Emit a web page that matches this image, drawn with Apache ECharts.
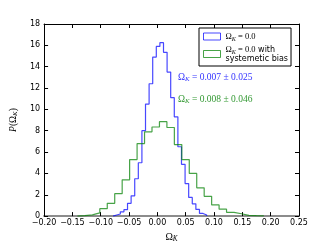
<!DOCTYPE html>
<html>
<head>
<meta charset="utf-8">
<script src="https://cdn.jsdelivr.net/npm/echarts@6/dist/echarts.min.js"></script>
<style>html,body{margin:0;padding:0;background:#fff}#c{width:332px;height:248px}</style>
</head>
<body>
<div id="c"></div>
<script>
// ---- data ----
const xTicks = [-0.20, -0.15, -0.10, -0.05, 0.00, 0.05, 0.10, 0.15, 0.20, 0.25];
const yTicks = [0, 2, 4, 6, 8, 10, 12, 14, 16, 18];

// Omega_K = 0.0 histogram (density per bin)
const blueBinStart = -0.0781;
const blueBinWidth = 0.00635;
const blueValues = [0.1, 0.2, 0.4, 0.6, 1.2, 1.9, 3.5, 5.0, 8.0, 10.5, 12.4, 14.9, 15.9, 16.25,
                    15.35, 13.5, 11.1, 9.3, 6.5, 4.85, 3.05, 1.75, 1.15, 0.63, 0.25, 0.1];

// Omega_K = 0.0 with systematic bias
const greenBinStart = -0.1411;
const greenBinWidth = 0.01316;
const greenValues = [0.04, 0.12, 0.3, 0.7, 1.2, 2.1, 3.4, 5.3, 6.8, 7.9, 8.35, 8.85, 8.3,
                     6.7, 5.3, 4.0, 2.65, 1.85, 1.05, 0.65, 0.35, 0.22, 0.07, 0.04, 0.02];

const blueLabel = 'Ω_K = 0.0';
const greenLabel = 'Ω_K = 0.0 with systemetic bias';
const blueStat = '0.007 ± 0.025';
const greenStat = '0.008 ± 0.046';

// ---- build step outlines ----
function stepData(start, width, vals) {
  const d = [[start, 0]];
  vals.forEach((v, i) => d.push([start + i * width, v]));
  d.push([start + vals.length * width, 0]);
  return d;
}
const blueC = 'rgba(0,0,255,0.72)';
const greenC = 'rgba(0,128,0,0.72)';
const serif = 'Liberation Serif';
const sans = 'DejaVu Sans';
const mathRich = (c, fs) => ({
  o: {fontFamily: serif, fontSize: fs, color: c, fill: c},
  k: {fontFamily: serif, fontStyle: 'italic', fontSize: fs * 0.72, color: c, fill: c, padding: [5, 0, 0, 0]},
  m: {fontFamily: serif, fontSize: fs, color: c, fill: c},
  s: {fontFamily: sans, fontSize: fs - 0.5, color: c, fill: c}
});

const fmtTick = v => (v < 0 ? '−' : '') + Math.abs(v).toFixed(2);

const chart = echarts.init(document.getElementById('c'), null, {renderer: 'canvas'});
chart.setOption({
  animation: false,
  backgroundColor: '#fff',
  grid: {left: 41, right: 33, top: 24, bottom: 25},
  xAxis: [{
    type: 'value', min: xTicks[0], max: xTicks[xTicks.length - 1], interval: 0.05,
    position: 'bottom',
    axisLine: {show: true, onZero: false, lineStyle: {color: '#8c8c8c', width: 2}},
    axisTick: {show: true, inside: true, length: 4, lineStyle: {color: '#000'}},
    axisLabel: {formatter: fmtTick, fontSize: 8, color: '#000', fontFamily: sans, margin: 3},
    splitLine: {show: false},
    name: '{o|Ω}{k|K}', nameLocation: 'middle', nameGap: 13,
    nameTextStyle: {rich: mathRich('#000', 10)}
  }, {
    type: 'value', min: xTicks[0], max: xTicks[xTicks.length - 1], interval: 0.05,
    position: 'top',
    axisLine: {show: true, onZero: false, lineStyle: {color: '#000', width: 1}},
    axisTick: {show: true, inside: true, length: 4, lineStyle: {color: '#000'}},
    axisLabel: {show: false}, splitLine: {show: false}
  }],
  yAxis: [{
    type: 'value', min: yTicks[0], max: yTicks[yTicks.length - 1], interval: 2,
    position: 'left',
    axisLine: {show: true, onZero: false, lineStyle: {color: '#000', width: 1}},
    axisTick: {show: true, inside: true, length: 4, lineStyle: {color: '#000'}},
    axisLabel: {fontSize: 8, color: '#000', fontFamily: sans, margin: 4},
    splitLine: {show: false},
    name: '{p|P}{o|(Ω}{k|K}{o|)}', nameLocation: 'middle', nameGap: 21,
    nameTextStyle: {rich: Object.assign(mathRich('#000', 9.5),
      {p: {fontFamily: serif, fontStyle: 'italic', fontSize: 9.5, color: '#000'}})}
  }, {
    type: 'value', min: yTicks[0], max: yTicks[yTicks.length - 1], interval: 2,
    position: 'right',
    axisLine: {show: true, onZero: false, lineStyle: {color: '#000', width: 1}},
    axisTick: {show: true, inside: true, length: 4, lineStyle: {color: '#000'}},
    axisLabel: {show: false}, splitLine: {show: false}
  }],
  legend: {
    orient: 'vertical', left: 199, top: 28,
    icon: 'rect', itemWidth: 17, itemHeight: 7, itemGap: 3,
    padding: [4, 3, 3, 4],
    borderColor: '#000', borderWidth: 1, backgroundColor: '#fff',
    data: [
      {name: blueLabel, itemStyle: {color: '#fff', borderColor: blueC, borderWidth: 1}},
      {name: greenLabel, itemStyle: {color: '#fff', borderColor: greenC, borderWidth: 1}}
    ],
    formatter: n => n === blueLabel
      ? '{o|Ω}{k|K}{m| = 0.0}'
      : '{o|Ω}{k|K}{m| = 0.0}{s| with}\n{s|systemetic bias}',
    textStyle: {fontSize: 8, color: '#000', lineHeight: 9, rich: mathRich('#000', 8.5)}
  },
  graphic: [
    {type: 'text', left: 178, top: 72,
     style: {text: '{o|Ω}{k|K}{m| = ' + blueStat + '}', fill: '#3333ff', rich: mathRich('#3333ff', 9.5)}},
    {type: 'text', left: 178, top: 94,
     style: {text: '{o|Ω}{k|K}{m| = ' + greenStat + '}', fill: '#339933', rich: mathRich('#339933', 9.5)}}
  ],
  series: [
    {name: blueLabel, type: 'line', step: 'end', showSymbol: false, symbol: 'none',
     data: stepData(blueBinStart, blueBinWidth, blueValues),
     lineStyle: {color: blueC, width: 1.2}, itemStyle: {color: blueC}},
    {name: greenLabel, type: 'line', step: 'end', showSymbol: false, symbol: 'none',
     data: stepData(greenBinStart, greenBinWidth, greenValues),
     lineStyle: {color: greenC, width: 1.2}, itemStyle: {color: greenC}}
  ]
});
</script>
</body>
</html>
